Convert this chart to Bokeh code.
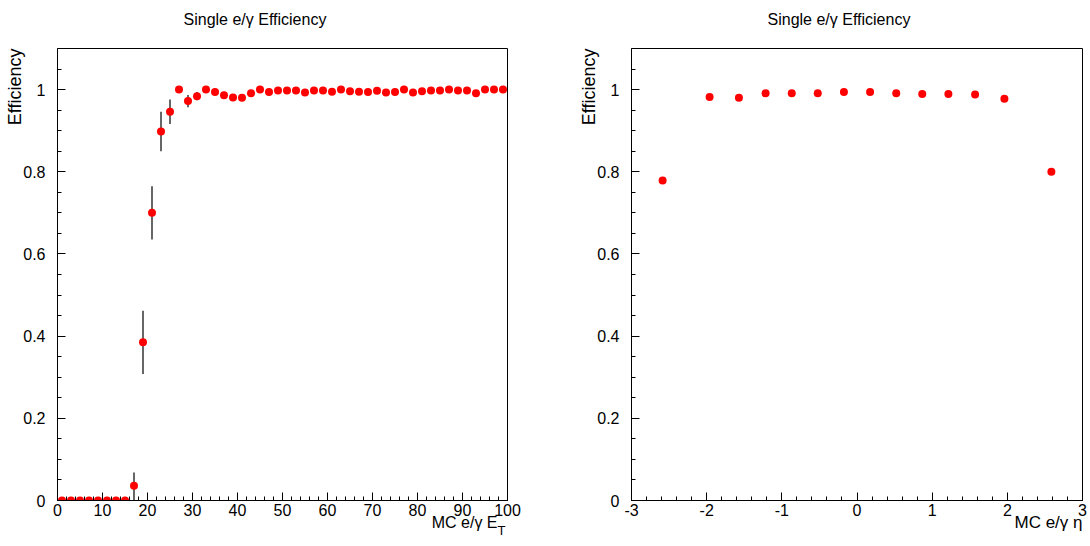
from bokeh.plotting import figure
from bokeh.layouts import row
from bokeh.models import (FixedTicker, CustomJSTickFormatter, Range1d, ColumnDataSource,
                          LinearAxis, Title)
from bokeh.embed import file_html
from bokeh.resources import INLINE

# ---- data: efficiency vs MC E_T (bin centres, 2 GeV bins) ----
et_centers = [1, 3, 5, 7, 9, 11, 13, 15, 17, 19, 21, 23, 25, 27, 29, 31, 33, 35, 37, 39,
              41, 43, 45, 47, 49, 51, 53, 55, 57, 59, 61, 63, 65, 67, 69, 71, 73, 75, 77, 79,
              81, 83, 85, 87, 89, 91, 93, 95, 97, 99]
eff_et = [0, 0, 0, 0, 0, 0, 0, 0, 0.036, 0.385, 0.700, 0.898, 0.946, 1.0, 0.972, 0.984,
          1.0, 0.994, 0.986, 0.981, 0.980, 0.991, 1.0, 0.994, 0.998, 0.998, 0.998, 0.993,
          0.998, 0.998, 0.995, 1.0, 0.996, 0.995, 0.994, 0.997, 0.993, 0.994, 1.0, 0.993,
          0.996, 0.998, 0.998, 1.0, 0.998, 0.998, 0.991, 1.0, 1.0, 1.0]
err_et_lo = [0, 0, 0, 0, 0, 0, 0, 0, 0.036, 0.077, 0.065, 0.048, 0.030, 0.0, 0.015, 0.010,
             0.0, 0.004, 0.005, 0.005, 0.005, 0.004, 0.0, 0.003, 0.002, 0.002, 0.002, 0.003,
             0.002, 0.002, 0.003, 0.0, 0.002, 0.003, 0.003, 0.002, 0.003, 0.003, 0.0, 0.003,
             0.002, 0.002, 0.002, 0.0, 0.002, 0.002, 0.003, 0.0, 0.0, 0.0]
err_et_hi = [0, 0, 0, 0, 0, 0, 0, 0, 0.032, 0.077, 0.065, 0.048, 0.030, 0.0, 0.015, 0.010,
             0.0, 0.004, 0.005, 0.005, 0.005, 0.004, 0.0, 0.003, 0.002, 0.002, 0.002, 0.003,
             0.002, 0.002, 0.003, 0.0, 0.002, 0.003, 0.003, 0.002, 0.003, 0.003, 0.0, 0.003,
             0.002, 0.002, 0.002, 0.0, 0.002, 0.002, 0.003, 0.0, 0.0, 0.0]

# ---- data: efficiency vs MC eta ----
eta_centers = [-2.586, -1.961, -1.571, -1.216, -0.868, -0.522, -0.174,
               0.174, 0.522, 0.868, 1.216, 1.571, 1.961, 2.586]
eff_eta = [0.779, 0.982, 0.980, 0.991, 0.991, 0.991, 0.994,
           0.994, 0.991, 0.989, 0.989, 0.988, 0.978, 0.800]

title_text = "Single e/\u03b3 Efficiency"
ylabel_text = "Efficiency"
xlabel_et = "MC e/\u03b3 E"
xlabel_et_sub = "T"
xlabel_eta = "MC e/\u03b3 \u03b7"
y_ticks = [0, 0.2, 0.4, 0.6, 0.8, 1.0]
y_minor = [0, 0.05, 0.1, 0.15, 0.2, 0.25, 0.3, 0.35, 0.4, 0.45, 0.5, 0.55, 0.6,
           0.65, 0.7, 0.75, 0.8, 0.85, 0.9, 0.95, 1.0, 1.05]
et_ticks = [0, 10, 20, 30, 40, 50, 60, 70, 80, 90, 100]
et_minor = [0, 2, 4, 6, 8, 10, 12, 14, 16, 18, 20, 22, 24, 26, 28, 30, 32, 34, 36, 38, 40,
            42, 44, 46, 48, 50, 52, 54, 56, 58, 60, 62, 64, 66, 68, 70, 72, 74, 76, 78, 80,
            82, 84, 86, 88, 90, 92, 94, 96, 98, 100]
eta_ticks = [-3, -2, -1, 0, 1, 2, 3]
eta_minor = [-3, -2.8, -2.6, -2.4, -2.2, -2, -1.8, -1.6, -1.4, -1.2, -1, -0.8, -0.6, -0.4,
             -0.2, 0, 0.2, 0.4, 0.6, 0.8, 1, 1.2, 1.4, 1.6, 1.8, 2, 2.2, 2.4, 2.6, 2.8, 3]

FONT = "Liberation Sans"
RED = "#ff0000"


def txt(text, size, **kw):
    return Title(text=text, text_font=FONT, text_font_size=size, text_font_style="normal",
                 text_color="black", **kw)


def make_fig(xr, xticks, xminor, min_left, min_right, title_offset, spacer_tick):
    p = figure(width=545, height=546, x_range=xr, y_range=Range1d(0, 1.1),
               output_backend="svg", toolbar_location=None,
               min_border_left=min_left, min_border_right=min_right,
               min_border_top=48, min_border_bottom=46)
    p.outline_line_color = "black"
    p.outline_line_width = 1
    p.xgrid.visible = False
    p.ygrid.visible = False
    p.background_fill_color = "white"
    p.border_fill_color = "white"
    xa = p.xaxis[0]
    ya = p.yaxis[0]
    for ax in (xa, ya):
        ax.axis_line_color = "black"
        ax.major_tick_line_color = "black"
        ax.minor_tick_line_color = "black"
        ax.major_tick_in = 8
        ax.major_tick_out = 0
        ax.minor_tick_in = 4
        ax.minor_tick_out = 0
        ax.major_label_text_font = FONT
        ax.major_label_text_font_size = "16px"
        ax.major_label_text_color = "black"
        ax.formatter = CustomJSTickFormatter(code="return String(tick);")
    xa.ticker = FixedTicker(ticks=xticks, minor_ticks=xminor)
    ya.ticker = FixedTicker(ticks=y_ticks, minor_ticks=y_minor)
    xa.major_label_standoff = 3
    ya.major_label_standoff = 12

    # invisible spacer between frame and title (an unlabeled, undrawn tick)
    spacer = LinearAxis(ticker=FixedTicker(ticks=[spacer_tick]), major_tick_out=19,
                        major_tick_in=0, minor_tick_out=0, minor_tick_in=0,
                        major_label_standoff=0, axis_line_color=None,
                        major_tick_line_color=None, minor_tick_line_color=None,
                        formatter=CustomJSTickFormatter(code="return '';"))
    p.add_layout(spacer, "above")

    p.title.text = title_text
    p.title.align = "left"
    p.title.offset = title_offset
    p.title.vertical_align = "top"
    p.title.standoff = 0
    p.title.text_font = FONT
    p.title.text_font_size = "16px"
    p.title.text_font_style = "normal"
    p.title.text_color = "black"

    # y-axis title, right-aligned at the top of the axis
    p.add_layout(txt(ylabel_text, "18px", align="right", offset=0,
                     vertical_align="bottom", standoff=-8), "left")
    return p


# ---------- left figure ----------
p1 = make_fig(Range1d(0, 100), et_ticks, et_minor, 57, 38, 126, 50)
src1 = ColumnDataSource(dict(
    x=et_centers, y=eff_et,
    lo=[v - e for v, e in zip(eff_et, err_et_lo)],
    hi=[v + e for v, e in zip(eff_et, err_et_hi)]))
p1.segment(x0="x", y0="lo", x1="x", y1="hi", source=src1, line_color="black", line_width=1.2)
p1.scatter(x="x", y="y", source=src1, size=8, fill_color=RED, line_color=RED, line_width=0)
p1.add_layout(txt(xlabel_et, "16px", align="right", offset=10,
                  vertical_align="top", standoff=-9), "below")
p1.add_layout(txt(xlabel_et_sub, "13px", align="right", offset=2,
                  vertical_align="top", standoff=-11), "below")

# ---------- right figure ----------
p2 = make_fig(Range1d(-3, 3), eta_ticks, eta_minor, 86, 8, 136, 0)
src2 = ColumnDataSource(dict(x=eta_centers, y=eff_eta))
p2.scatter(x="x", y="y", source=src2, size=8, fill_color=RED, line_color=RED, line_width=0)
p2.add_layout(txt(xlabel_eta, "17px", align="right", offset=0,
                  vertical_align="top", standoff=-12), "below")

layout = row(p1, p2)
open("out.html", "w").write(file_html(layout, INLINE))
